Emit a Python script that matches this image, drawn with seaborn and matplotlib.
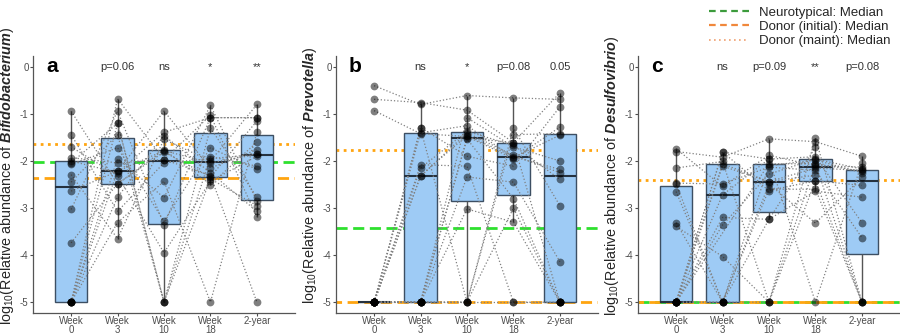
import numpy as np
import pandas as pd
import matplotlib
matplotlib.use("Agg")
import matplotlib.pyplot as plt
import seaborn as sns
from matplotlib.lines import Line2D

# ---------------- data ----------------
timepoints = ["Week\n0", "Week\n3", "Week\n10", "Week\n18", "2-year"]
genera = ["Bifidobacterium", "Prevotella", "Desulfovibrio"]
panel_letters = ["a", "b", "c"]
sig_labels = [
    ["", "p=0.06", "ns", "*", "**"],
    ["", "ns", "*", "p=0.08", "0.05"],
    ["", "ns", "p=0.09", "**", "p=0.08"],
]
neurotypical_median = [-2.02, -3.43, -5.0]
donor_initial_median = [-2.37, -5.0, -5.0]
donor_maint_median = [-1.63, -1.77, -2.41]

nan = np.nan
# Bifidobacterium (subjects in the same order in every list)
bifido_w0 = [-5, -2.45, -5, -1.93, -3.03, -5, -2.04, -0.94, -5, -2.29, -1.70, -5, -2.64, -2.07, -3.74, -1.44, -5, -2.00]
bifido_w3 = [-2.22, -1.44, -3.31, -2.04, -0.94, -2.77, -1.20, -2.49, -1.95, -3.65, -2.31, -0.68, -2.22, -1.72, -2.48, -3.07, -1.20, -2.25]
bifido_w10 = [-1.78, -5, -2.43, -1.97, -3.35, -1.46, -5, -1.76, -2.78, -1.54, -3.95, -1.97, -0.94, -3.28, -1.81, -2.04, -5, -1.39]
bifido_w18 = [-2.04, -1.30, -5, -2.31, -1.08, -2.25, -1.91, -2.50, -0.82, -2.00, -2.43, -1.03, -2.15, -1.72, -2.34, -1.95, -2.38, -1.08]
bifido_y2 = [-1.86, -2.77, -1.39, -5, -1.08, -3.07, -2.11, -1.60, -2.85, -0.80, -1.90, -3.19, -1.76, -2.18, -1.15, -1.86, -2.95, -1.08]

# Prevotella
prevo_w0 = [-5, -5, -0.40, -5, -5, -5, -0.69, -5, -5, -5, -5, -0.93, -5, -5, -5, -5, -5, -5]
prevo_w3 = [-2.31, -5, -0.80, -1.40, -5, -2.08, -0.76, -5, -1.31, -2.33, -5, -1.42, -5, -2.15, -5, -1.29, -5, -5]
prevo_w10 = [-1.46, -1.51, -0.61, -1.25, -5, -2.11, -0.92, -1.53, -5, -1.40, -3.02, -1.48, -2.34, -1.37, -5, -1.90, -1.08, -5]
prevo_w18 = [-1.91, -1.61, -0.66, -1.93, -1.30, -5, -1.61, -2.80, -1.44, -1.88, -3.30, -1.95, -2.45, -1.67, -3.00, -2.11, -1.70, -5]
prevo_y2 = [-2.18, -5, -0.69, -1.45, -2.95, -5, -0.55, -5, -1.42, -2.25, -5, -1.28, -4.14, -2.39, -5, -0.85, -2.00, -5]

# Desulfovibrio
desulfo_w0 = [-5, -1.80, -5, -2.49, -5, -5, -3.39, -1.74, -5, -2.65, -5, -2.15, -5, -5, -3.31, -2.47, -5, -5]
desulfo_w3 = [-2.06, -1.92, -5, -5, -2.72, -1.81, -4.03, -2.54, -2.11, -5, -3.36, -2.01, nan, -1.81, -5, -2.49, -3.20, -5]
desulfo_w10 = [-2.44, -1.53, -5, -2.10, -1.96, -2.63, -5, -1.88, -2.44, -3.24, -2.28, -5, -2.06, -1.96, -2.49, -2.13, -3.24, -2.60]
desulfo_w18 = [-2.15, -1.59, -2.06, -1.98, -5, -2.42, -1.51, -2.10, -2.30, -2.64, -1.96, -2.42, -2.06, -1.91, -3.32, -2.20, -1.71, -2.60]
desulfo_y2 = [-2.20, -1.90, -5, -2.25, -2.04, -2.52, -5, -2.13, nan, -2.77, -2.17, -5, -2.22, -3.31, -2.35, -3.63, nan, -5]

panel_series = [
    [bifido_w0, bifido_w3, bifido_w10, bifido_w18, bifido_y2],
    [prevo_w0, prevo_w3, prevo_w10, prevo_w18, prevo_y2],
    [desulfo_w0, desulfo_w3, desulfo_w10, desulfo_w18, desulfo_y2],
]

# ---------------- style ----------------
sns.set_theme(style="ticks")
plt.rcParams["font.family"] = ["Liberation Sans", "DejaVu Sans"]
plt.rcParams["axes.unicode_minus"] = False
plt.rcParams["mathtext.fontset"] = "custom"
plt.rcParams["mathtext.rm"] = "Liberation Sans"
plt.rcParams["mathtext.it"] = "Liberation Sans:italic"
plt.rcParams["mathtext.bf"] = "Liberation Sans:bold"
plt.rcParams["mathtext.bfit"] = "Liberation Sans:bold:italic"

BOX_FILL = "#9ecbf5"
BOX_EDGE = "#3d4f63"
GREEN = "#2ee02e"
ORANGE = "#ffa510"
TICK_COL = "#4d4d4d"

fig = plt.figure(figsize=(9.0, 3.34), dpi=100)
lefts = [33 / 900, 336 / 900, 638 / 900]
width = 262 / 900
bottom = 21 / 334
height = (313 - 56) / 334

for i in range(3):
    ax = fig.add_axes([lefts[i], bottom, width, height])
    rows = []
    for t, vals in zip(timepoints, panel_series[i]):
        for s, v in enumerate(vals):
            rows.append({"subject": s, "time": t, "value": v})
    df = pd.DataFrame(rows)
    df["time"] = pd.Categorical(df["time"], categories=timepoints, ordered=True)
    df["pos"] = df["time"].cat.codes
    df = df.dropna(subset=["value"])

    # reference medians
    ax.axhline(neurotypical_median[i], color=GREEN, lw=2.0, ls=(0, (4, 2)), zorder=1.5)
    ax.axhline(donor_initial_median[i], color=ORANGE, lw=2.0, ls=(2, (4, 2)), zorder=1.6)
    ax.axhline(donor_maint_median[i], color=ORANGE, lw=2.0, ls=(0, (1, 1.6)), zorder=1.6)

    sns.boxplot(data=df, x="time", y="value", order=timepoints, ax=ax,
                width=0.7, color=BOX_FILL, saturation=1, linecolor=BOX_EDGE,
                linewidth=1.0, showfliers=False, showcaps=False,
                medianprops=dict(color="#26323f", linewidth=1.5),
                whiskerprops=dict(color="#555555", linewidth=1.0),
                boxprops=dict(zorder=2))

    sns.lineplot(data=df, x="pos", y="value", units="subject", estimator=None,
                 color="#808080", lw=0.9, linestyle=":", legend=False, ax=ax,
                 zorder=2.5, sort=True)

    sns.stripplot(data=df, x="time", y="value", order=timepoints, ax=ax,
                  jitter=False, color="black", alpha=0.5, size=5.6,
                  linewidth=0, zorder=3)

    ax.set_xlim(-0.82, 4.82)
    ax.set_ylim(-5.23, 0.23)
    ax.set_yticks([0, -1, -2, -3, -4, -5])
    ax.set_yticklabels(["0", "-1", "-2", "-3", "-4", "-5"])
    ax.set_xticks(range(len(timepoints)))
    ax.set_xticklabels(timepoints, linespacing=0.78, va="top")
    ax.tick_params(axis="both", labelsize=7, colors=TICK_COL, length=2.2,
                   width=0.8, pad=1)
    ax.tick_params(axis="x", pad=0.2)
    ax.set_xlabel("")
    ax.set_ylabel(r"log$_{10}$(Relative abundance of $\mathbfit{" + genera[i] + "}$)",
                  fontsize=10.4, labelpad=2.5)
    ax.yaxis.label.set_y(0.535)
    for side in ["top", "right"]:
        ax.spines[side].set_visible(False)
    for side in ["left", "bottom"]:
        ax.spines[side].set_color("#555555")
        ax.spines[side].set_linewidth(0.9)

    ax.text(-0.41, 0, panel_letters[i], fontsize=15, fontweight="bold",
            ha="center", va="center", color="black")
    for j, lab in enumerate(sig_labels[i]):
        if lab:
            ax.text(j, 0, lab, fontsize=8, ha="center", va="center",
                    color="#333333")

handles = [
    Line2D([], [], color="#3c9b3c", lw=1.6, ls=(0, (3, 2))),
    Line2D([], [], color="#f0883c", lw=1.6, ls=(0, (3, 2))),
    Line2D([], [], color="#f0a070", lw=1.2, ls=(0, (1, 2))),
]
labels = ["Neurotypical: Median", "Donor (initial): Median", "Donor (maint): Median"]
fig.legend(handles, labels, loc="upper right", bbox_to_anchor=(0.997, 1.0),
           frameon=False, fontsize=9.5, handlelength=3.0, handletextpad=0.8,
           labelspacing=0.15, borderaxespad=0.1)

fig.savefig("out.png", dpi=100)
